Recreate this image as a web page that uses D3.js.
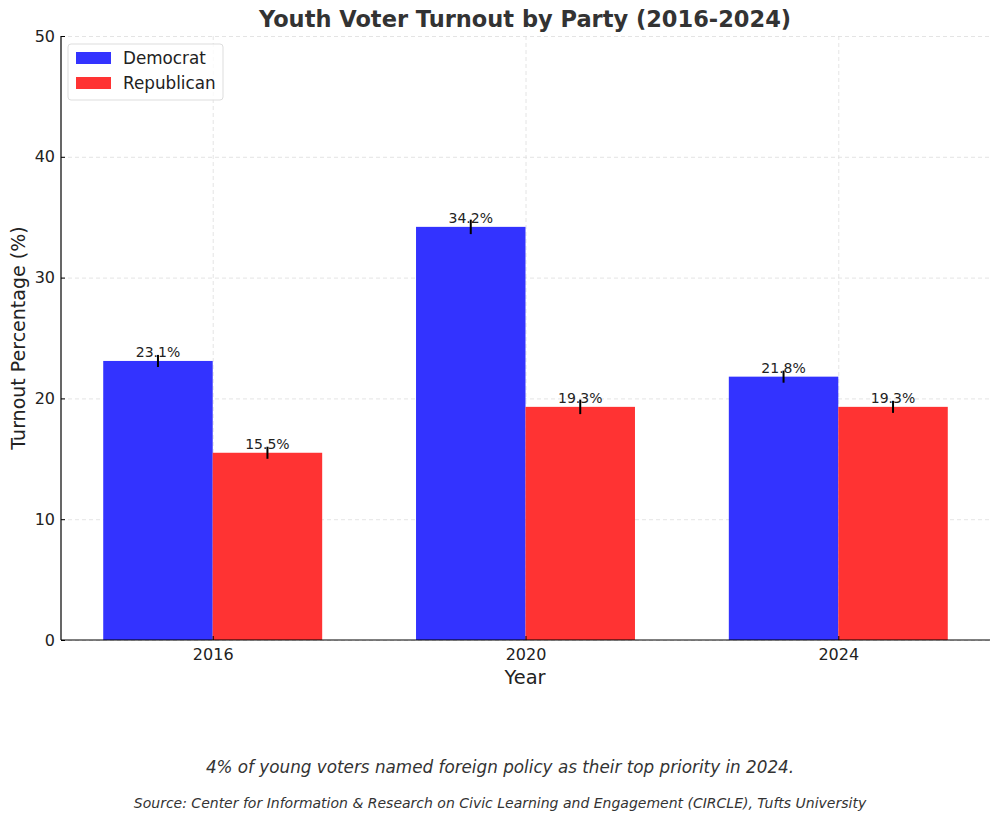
<!DOCTYPE html>
<meta charset="utf-8">
<script src="https://cdn.jsdelivr.net/npm/d3@7"></script>
<style>
    body { margin: 0; background: #fff; font-family: "DejaVu Sans", sans-serif; }
    .grid line { stroke: #ddd; stroke-dasharray: 4, 3; stroke-width: 0.8; }
    .grid .domain { display: none; }
</style>
<body>
<script>
    var years = ["2016", "2020", "2024"];
    var parties = ["Democrat", "Republican"];
    var democrat = [23.1, 34.2, 21.8];
    var republican = [15.5, 19.3, 19.3];
    var errDem = [0.5, 0.6, 0.5];
    var errRep = [0.5, 0.6, 0.5];
    var colors = ["#3333ff", "#ff3333"];
    var yTicks = [0, 10, 20, 30, 40, 50];

    var margin = { top: 36, right: 10, bottom: 182, left: 61 },
        width = 1000 - margin.left - margin.right,
        height = 822 - margin.top - margin.bottom;

    var svg = d3.select("body").append("svg")
        .attr("width", 1000)
        .attr("height", 822);

    var g = svg.append("g")
        .attr("transform", "translate(" + margin.left + "," + margin.top + ")");

    // matplotlib-like: index positions with 5% margin
    var barW = 0.35;
    var x = d3.scaleLinear()
        .domain([-barW - 0.135, 2 + barW + 0.135])
        .range([0, width]);

    var y = d3.scaleLinear()
        .domain([0, 50])
        .range([height, 0]);

    // grid
    g.append("g")
        .attr("class", "grid")
        .call(d3.axisLeft(y).tickValues(yTicks).tickSize(-width).tickFormat(""));
    g.append("g")
        .attr("class", "grid")
        .call(d3.axisBottom(x).tickValues([0, 1, 2]).tickSize(height).tickFormat(""));

    var series = [democrat, republican];
    var errs = [errDem, errRep];

    series.forEach(function (vals, s) {
        var off = s === 0 ? -barW : 0;
        g.selectAll(".bar" + s)
            .data(vals)
            .enter().append("rect")
            .attr("x", function (d, i) { return x(i + off); })
            .attr("y", function (d) { return y(d); })
            .attr("width", function (d, i) { return x(i + off + barW) - x(i + off); })
            .attr("height", function (d) { return height - y(d); })
            .style("fill", colors[s]);

        g.selectAll(".err" + s)
            .data(vals)
            .enter().append("line")
            .attr("x1", function (d, i) { return x(i + off + barW / 2); })
            .attr("x2", function (d, i) { return x(i + off + barW / 2); })
            .attr("y1", function (d, i) { return y(d - errs[s][i]); })
            .attr("y2", function (d, i) { return y(d + errs[s][i]); })
            .style("stroke", "#000")
            .style("stroke-width", 2);

        g.selectAll(".lab" + s)
            .data(vals)
            .enter().append("text")
            .attr("x", function (d, i) { return x(i + off + barW / 2); })
            .attr("y", function (d) { return y(d + 0.3); })
            .style("text-anchor", "middle")
            .style("font-size", "14px")
            .style("fill", "#222")
            .text(function (d) { return d.toFixed(1) + "%"; });
    });

    // axes (ticks point inward)
    var yAxis = g.append("g")
        .attr("class", "axis")
        .call(d3.axisLeft(y).tickValues(yTicks).tickSizeInner(-4).tickSizeOuter(0).tickPadding(6));
    yAxis.select(".domain").attr("d", "M0," + height + "V0");

    var xAxis = g.append("g")
        .attr("class", "axis")
        .attr("transform", "translate(0," + height + ")")
        .call(d3.axisBottom(x).tickValues([0, 1, 2]).tickSizeInner(-4).tickSizeOuter(0).tickPadding(9)
            .tickFormat(function (d) { return years[d]; }));
    xAxis.select(".domain").attr("d", "M0,0H" + width);
    g.selectAll(".axis .domain").style("stroke", "#000").style("stroke-width", 1.2);
    g.selectAll(".axis .tick line").style("stroke", "#000");
    g.selectAll(".axis .tick text")
        .style("font-size", "16px")
        .style("font-family", "DejaVu Sans, sans-serif")
        .style("fill", "#222");

    // title & labels
    svg.append("text")
        .attr("x", 525)
        .attr("y", 27)
        .style("text-anchor", "middle")
        .style("font-size", "22.5px")
        .style("font-weight", "bold")
        .style("fill", "#333")
        .text("Youth Voter Turnout by Party (2016-2024)");

    svg.append("text")
        .attr("x", 525)
        .attr("y", 684)
        .style("text-anchor", "middle")
        .style("font-size", "19.4px")
        .style("fill", "#222")
        .text("Year");

    svg.append("text")
        .attr("transform", "translate(25," + (margin.top + height / 2) + ") rotate(-90)")
        .style("text-anchor", "middle")
        .style("font-size", "19px")
        .style("fill", "#222")
        .text("Turnout Percentage (%)");

    svg.append("text")
        .attr("x", 500)
        .attr("y", 773)
        .style("text-anchor", "middle")
        .style("font-size", "16.8px")
        .style("font-style", "italic")
        .style("fill", "#333")
        .text("4% of young voters named foreign policy as their top priority in 2024.");

    svg.append("text")
        .attr("x", 500)
        .attr("y", 808)
        .style("text-anchor", "middle")
        .style("font-size", "14px")
        .style("font-style", "italic")
        .style("fill", "#333")
        .text("Source: Center for Information & Research on Civic Learning and Engagement (CIRCLE), Tufts University");

    // legend
    var legend = svg.append("g").attr("transform", "translate(68,44)");
    legend.append("rect")
        .attr("width", 155)
        .attr("height", 56)
        .attr("rx", 3)
        .style("fill", "#fff")
        .style("fill-opacity", 0.8)
        .style("stroke", "#ddd");
    parties.forEach(function (p, i) {
        legend.append("rect")
            .attr("x", 8)
            .attr("y", 8 + i * 25)
            .attr("width", 35)
            .attr("height", 12)
            .style("fill", colors[i]);
        legend.append("text")
            .attr("x", 55)
            .attr("y", 20 + i * 25)
            .style("font-size", "16.8px")
            .style("fill", "#222")
            .text(p);
    });
</script>
</body>
